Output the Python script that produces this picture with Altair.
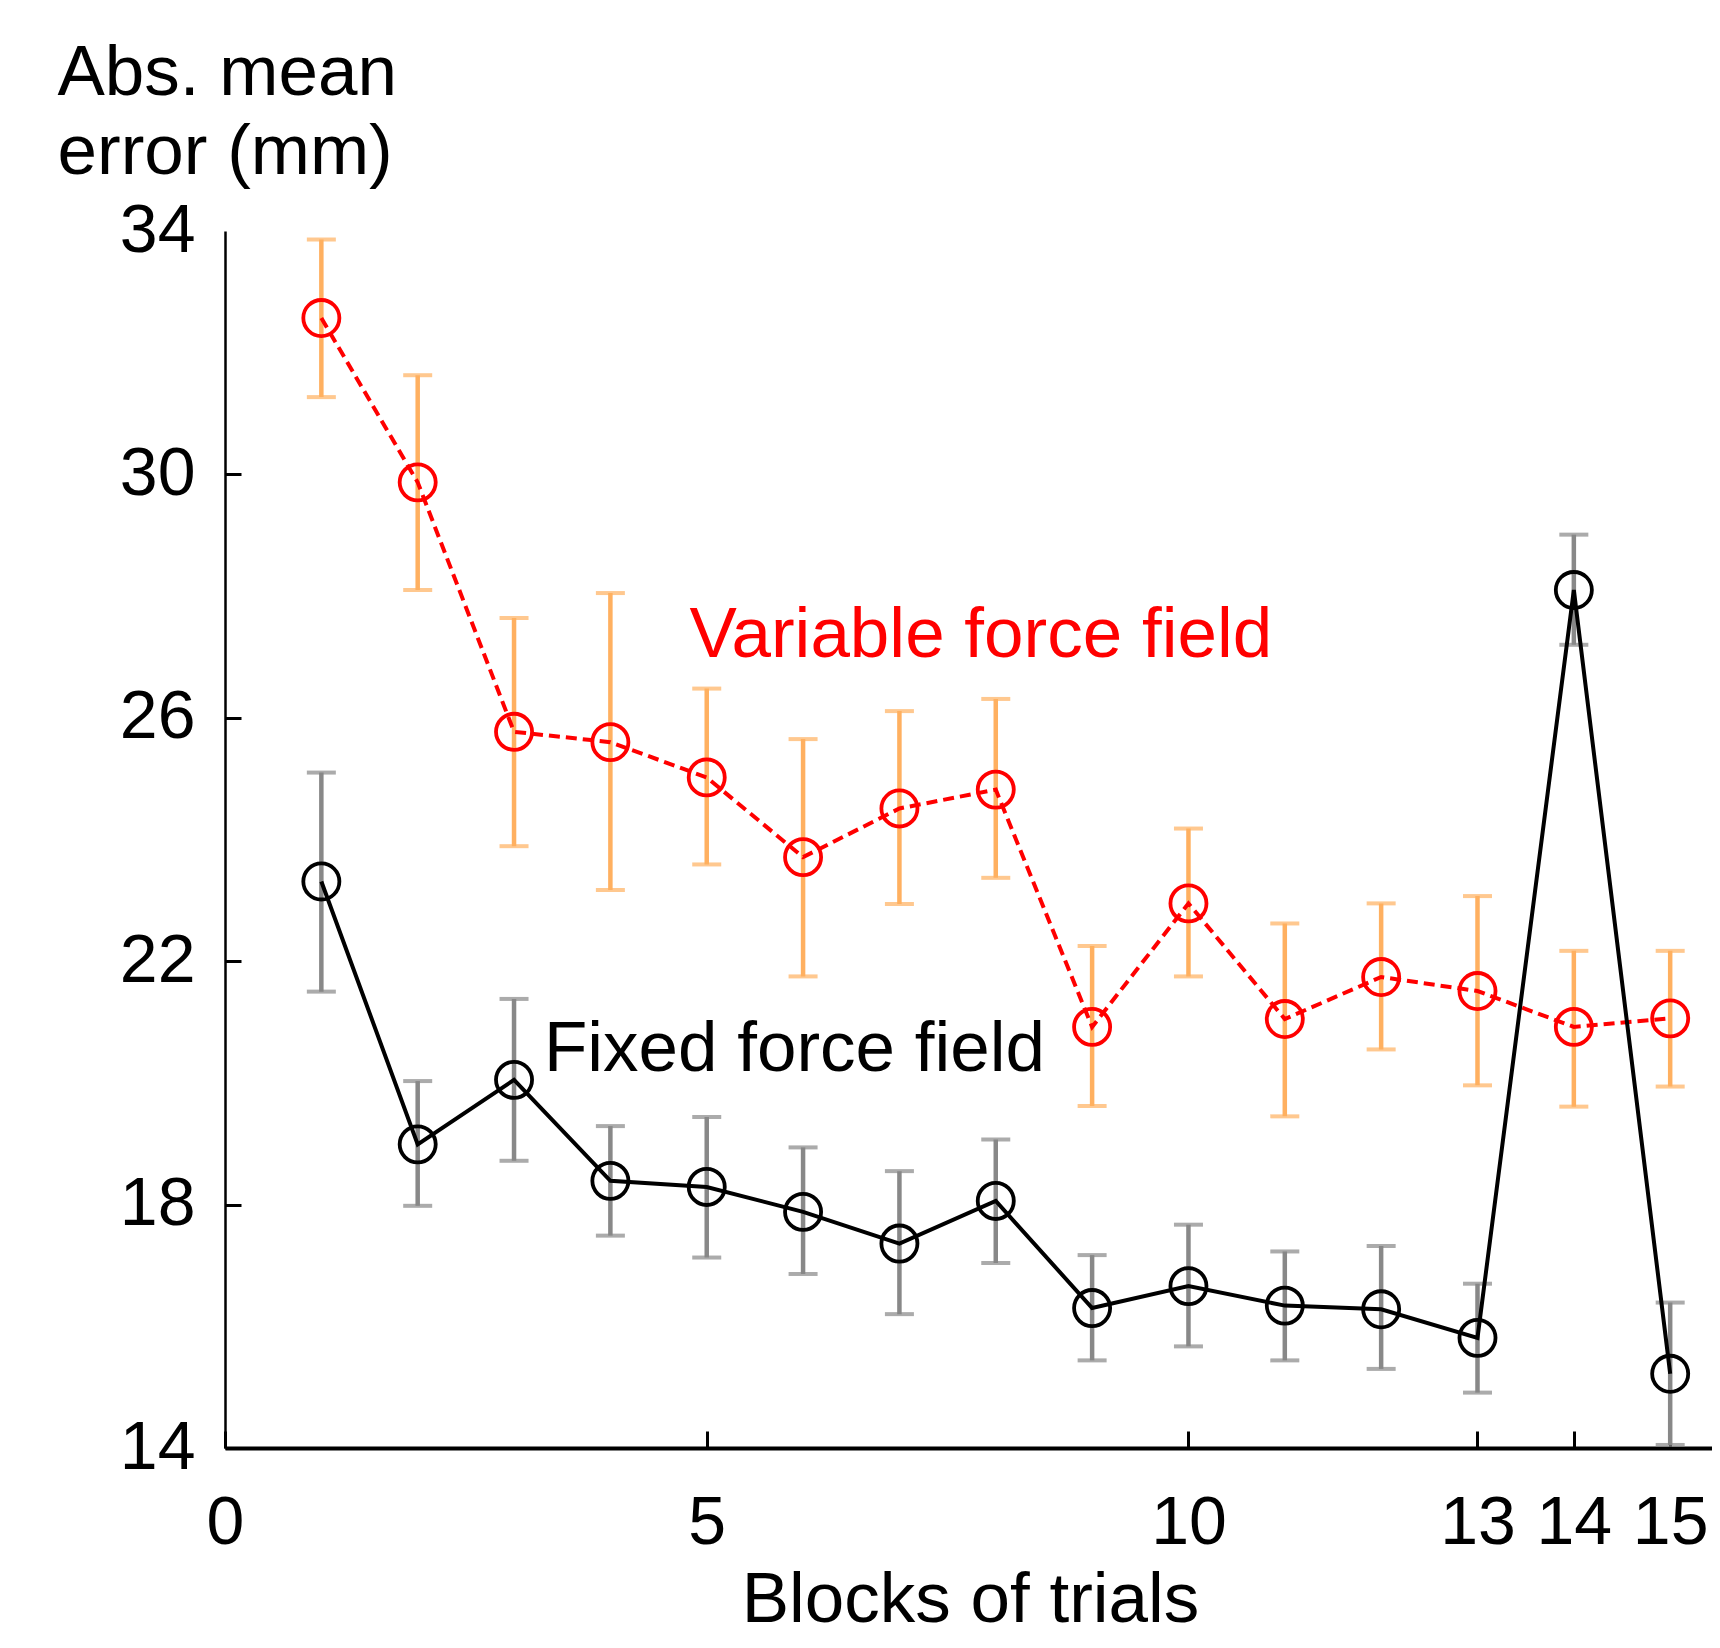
import altair as alt
import pandas as pd

blocks = list(range(1, 16))
var_mean = [32.57, 29.87, 25.77, 25.60, 25.02, 23.71, 24.51, 24.82, 20.92, 22.95, 21.05, 21.74, 21.51, 20.92, 21.06]
var_hi = [33.86, 31.63, 27.64, 28.05, 26.48, 25.65, 26.11, 26.31, 22.25, 24.18, 22.62, 22.95, 23.07, 22.17, 22.17]
var_lo = [31.27, 28.10, 23.89, 23.17, 23.59, 21.75, 22.94, 23.37, 19.62, 21.75, 19.45, 20.55, 19.96, 19.61, 19.94]
fix_mean = [23.31, 18.99, 20.05, 18.39, 18.29, 17.88, 17.36, 18.06, 16.30, 16.66, 16.34, 16.28, 15.81, 28.10, 15.22]
fix_hi = [25.10, 20.03, 21.38, 19.29, 19.44, 18.94, 18.55, 19.07, 17.17, 17.67, 17.23, 17.32, 16.70, 29.01, 16.39]
fix_lo = [21.50, 17.98, 18.72, 17.49, 17.13, 16.86, 16.20, 17.04, 15.44, 15.67, 15.44, 15.30, 14.91, 27.20, 14.05]

x_ticks = [0, 5, 10, 13, 14, 15]
y_ticks = [14, 18, 22, 26, 30, 34]

labels_text = ["Variable force field", "Fixed force field"]
labels_x = [4.82, 3.31]
labels_y = [27.0, 20.2]
labels_color = ["#ff0000", "#000000"]

FONT = "Liberation Sans"

var_df = pd.DataFrame({"block": blocks, "mean": var_mean, "hi": var_hi, "lo": var_lo})
fix_df = pd.DataFrame({"block": blocks, "mean": fix_mean, "hi": fix_hi, "lo": fix_lo})
lab_df = pd.DataFrame({"text": labels_text, "x": labels_x, "y": labels_y, "c": labels_color})

xscale = alt.Scale(domain=[0, 15.434], nice=False, zero=False)
yscale = alt.Scale(domain=[14, 34], nice=False, zero=False)

x_axis = alt.Axis(
    values=x_ticks, format="d", grid=False,
    labelFont=FONT, labelFontSize=68, labelColor="black",
    labelFlush=False, labelOverlap=False, labelBound=False,
    labelBaseline="top", labelPadding=58,
    tickSize={"expr": "-17"}, tickWidth=3, tickColor="black",
    domainWidth=4, domainColor="black",
    title="Blocks of trials", titleFont=FONT, titleFontSize=71,
    titleFontWeight="normal", titleColor="black",
    titleX=745, titleY=173, titleAlign="center", titleBaseline="alphabetic",
)
y_axis = alt.Axis(
    values=y_ticks, format="d", grid=False,
    labelFont=FONT, labelFontSize=68, labelColor="black",
    labelFlush=False, labelOverlap=False, labelBound=False,
    labelBaseline="middle", labelPadding=46,
    tickSize={"expr": "-16"}, tickWidth=3, tickColor="black",
    tickOpacity={"condition": {"test": "datum.value >= 34", "value": 0}, "value": 1},
    domainWidth=2.5, domainColor="black",
    title=["Abs. mean", "error (mm)"], titleFont=FONT, titleFontSize=71,
    titleFontWeight="normal", titleColor="black", titleAngle=0,
    titleX=-168, titleY=-137, titleAlign="left", titleBaseline="alphabetic",
    titleLineHeight=79,
)


def series_layers(df, bar_color, line_color, dash):
    base = alt.Chart(df)
    x = alt.X("block:Q", scale=xscale, axis=x_axis)
    rules = base.mark_rule(color=bar_color, strokeWidth=4.5).encode(
        x=x, y=alt.Y("lo:Q", scale=yscale, axis=y_axis), y2="hi:Q")
    cap_hi = base.mark_tick(color=bar_color, orient="horizontal", size=29, thickness=4).encode(
        x=x, y=alt.Y("hi:Q", scale=yscale, axis=y_axis))
    cap_lo = base.mark_tick(color=bar_color, orient="horizontal", size=29, thickness=4).encode(
        x=x, y=alt.Y("lo:Q", scale=yscale, axis=y_axis))
    line_kw = dict(color=line_color, strokeWidth=4)
    if dash:
        line_kw["strokeDash"] = dash
    line = base.mark_line(**line_kw).encode(
        x=x, y=alt.Y("mean:Q", scale=yscale, axis=y_axis))
    pts = base.mark_point(shape="circle", filled=False, size=1300, strokeWidth=3.8,
                          color=line_color, opacity=1).encode(
        x=x, y=alt.Y("mean:Q", scale=yscale, axis=y_axis))
    return [rules, cap_hi, cap_lo, line, pts]


layers = series_layers(var_df, "#ffb060", "#ff0000", [11, 6]) + \
    series_layers(fix_df, "#888888", "#000000", None)

texts = alt.Chart(lab_df).mark_text(
    font=FONT, fontSize=71, align="left", baseline="alphabetic"
).encode(
    x=alt.X("x:Q", scale=xscale, axis=x_axis),
    y=alt.Y("y:Q", scale=yscale, axis=y_axis),
    text="text:N",
    color=alt.Color("c:N", scale=None, legend=None),
)

chart = alt.layer(*layers, texts).properties(
    width=1487, height=1217,
    autosize=alt.AutoSizeParams(type="none"),
    padding={"left": 217, "top": 223, "right": 0, "bottom": 191},
    background="white",
).configure_view(stroke=None)

chart.save("out.html", embed_options={"renderer": "svg", "actions": False})
